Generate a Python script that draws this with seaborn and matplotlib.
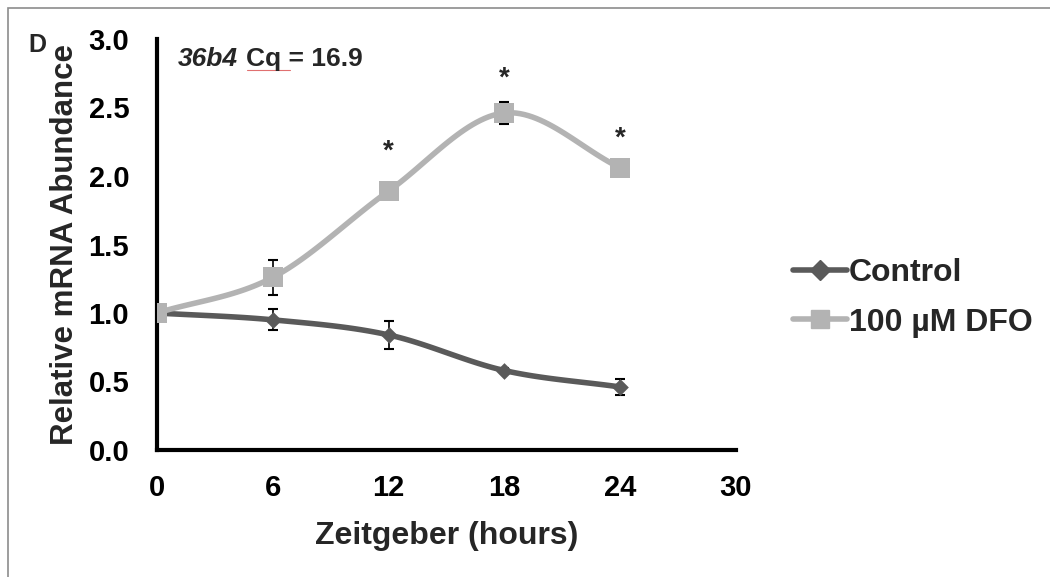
import numpy as np
import pandas as pd
import seaborn as sns
import matplotlib.pyplot as plt
from matplotlib.patches import Rectangle
from matplotlib.lines import Line2D

# values
hours = [0, 6, 12, 18, 24]
control = [1.00, 0.95, 0.84, 0.58, 0.46]
control_err = [0.0, 0.077, 0.10, 0.02, 0.06]
dfo = [1.00, 1.26, 1.89, 2.46, 2.06]
dfo_err = [0.0, 0.128, 0.0, 0.077, 0.0]
star_hours = [12, 18, 24]
star_y = [2.18, 2.71, 2.27]

sns.set_style("white")
plt.rcParams['font.family'] = ['Liberation Sans', 'DejaVu Sans']
plt.rcParams['font.weight'] = 'bold'

W, H = 1050, 577
fig = plt.figure(figsize=(10.5, 5.77), dpi=100)
fig.patches.append(Rectangle((8 / W, -0.01), 1.1, 1 - 8 / H + 0.01,
                             transform=fig.transFigure, fill=False,
                             edgecolor='#8c8c8c', linewidth=1.2))
ax = fig.add_axes([157 / W, 1 - 450 / H, 579 / W, 411 / H])


def smooth(x, y, n=30):
    # Catmull-Rom style smoothing, like Excel's "smoothed line"
    x = np.asarray(x, float)
    y = np.asarray(y, float)
    px = np.concatenate([[2 * x[0] - x[1]], x, [2 * x[-1] - x[-2]]])
    py = np.concatenate([[2 * y[0] - y[1]], y, [2 * y[-1] - y[-2]]])
    xs, ys = [], []
    t = np.linspace(0, 1, n)
    for i in range(1, len(px) - 2):
        for p, out in ((px, xs), (py, ys)):
            p0, p1, p2, p3 = p[i - 1], p[i], p[i + 1], p[i + 2]
            out.extend(0.5 * (2 * p1 + (-p0 + p2) * t
                              + (2 * p0 - 5 * p1 + 4 * p2 - p3) * t ** 2
                              + (-p0 + 3 * p1 - 3 * p2 + p3) * t ** 3))
    return np.array(xs), np.array(ys)


# name, values, errors, colour, marker, marker size (pt)
series = [("Control", control, control_err, "#5a5a5a", "D", 8.5),
          ("100 µM DFO", dfo, dfo_err, "#b3b3b3", "s", 14)]

for name, vals, err, col, mk, ms in series:
    ax.errorbar(hours, vals, yerr=err, fmt='none', ecolor='black',
                elinewidth=1.2, capsize=3.5, capthick=1.5, zorder=2)
    sx, sy = smooth(hours, vals)
    sns.lineplot(x=sx, y=sy, ax=ax, color=col, linewidth=4, sort=False,
                 estimator=None, zorder=3)
    df = pd.DataFrame({"h": hours, "v": vals})
    sns.scatterplot(data=df, x="h", y="v", ax=ax, color=col, marker=mk,
                    s=ms ** 2, linewidth=0, zorder=4)

for h, y in zip(star_hours, star_y):
    ax.text(h, y, "*", ha='center', va='center', fontsize=20, fontweight='bold')

ax.set_xlim(0, 30)
ax.set_ylim(0, 3.0)
ax.set_xticks([0, 6, 12, 18, 24, 30])
ax.set_yticks(np.arange(0, 3.01, 0.5))
ax.yaxis.set_major_formatter(plt.FormatStrFormatter('%.1f'))
for s in ['top', 'right']:
    ax.spines[s].set_visible(False)
for s in ['left', 'bottom']:
    ax.spines[s].set_linewidth(3)
    ax.spines[s].set_color('black')
ax.tick_params(axis='both', direction='out', length=5, width=3,
               labelsize=21, colors='black')
ax.tick_params(axis='x', pad=12)
ax.tick_params(axis='y', pad=15)
for lab in ax.get_xticklabels() + ax.get_yticklabels():
    lab.set_fontweight('bold')
ax.set_xlabel("Zeitgeber (hours)", fontsize=23, fontweight='bold', labelpad=14)
ax.set_ylabel("Relative mRNA Abundance", fontsize=22.5, fontweight='bold', labelpad=6)

fig.text(178 / W, 1 - 66 / H, "36b4", fontsize=19, fontweight='bold',
         fontstyle='italic', va='baseline')
fig.text(246 / W, 1 - 66 / H, "Cq = 16.9", fontsize=19,
         fontweight='bold', va='baseline')
fig.lines.append(Line2D([247 / W, 290 / W], [1 - 70 / H, 1 - 70 / H],
                        transform=fig.transFigure, color='#e07070', lw=0.8))
fig.text(28 / W, 1 - 52 / H, "D", fontsize=18, fontweight='bold', va='baseline')

handles = [Line2D([0], [0], color=c, lw=4, marker=m,
                  markersize=ms * (1.2 if m == 'D' else 0.9))
           for _, _, _, c, m, ms in series]
fig.legend(handles, [s[0] for s in series], loc='center left',
           bbox_to_anchor=(793 / W, 1 - 298 / H), frameon=False,
           borderpad=0, borderaxespad=0,
           prop={'size': 23, 'weight': 'bold'}, handlelength=1.7,
           handletextpad=0.05, labelspacing=0.6)

fig.savefig("out.png", dpi=100)
